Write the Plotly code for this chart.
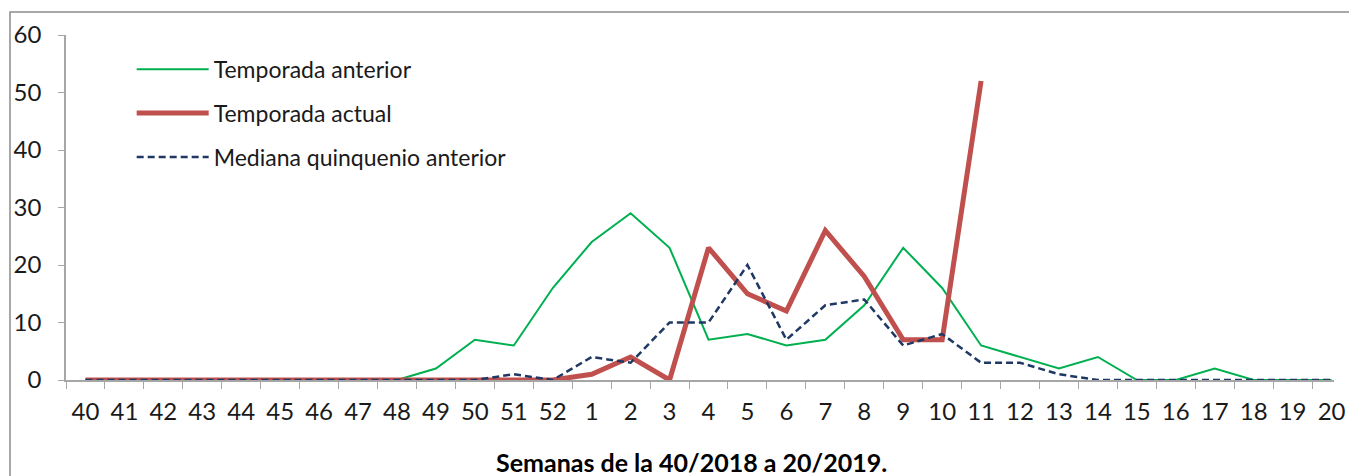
import plotly.graph_objects as go

weeks = [str(w) for w in list(range(40, 53)) + list(range(1, 21))]

temporada_anterior = [0, 0, 0, 0, 0, 0, 0, 0, 0, 2, 7, 6, 16, 24, 29, 23, 7, 8, 6, 7,
                      13, 23, 16, 6, 4, 2, 4, 0, 0, 2, 0, 0, 0]
temporada_actual = [0, 0, 0, 0, 0, 0, 0, 0, 0, 0, 0, 0, 0, 1, 4, 0, 23, 15, 12, 26,
                    18, 7, 7, 52] + [None] * 9
mediana = [0, 0, 0, 0, 0, 0, 0, 0, 0, 0, 0, 1, 0, 4, 3, 10, 10, 20, 7, 13,
           14, 6, 8, 3, 3, 1, 0, 0, 0, 0, 0, 0, 0]

FONT = "Lato"
W, H = 1349, 476
L, R, T, B = 66, 15, 35, 96
PW, PH = W - L - R, H - T - B
SPACING = 38.94
X_MAX = -0.5 + PW / SPACING

fig = go.Figure()
fig.add_trace(go.Scatter(x=weeks, y=temporada_anterior, mode="lines",
                         name="Temporada anterior", legendgroup="a",
                         line=dict(color="#00B050", width=2)))
fig.add_trace(go.Scatter(x=weeks, y=temporada_actual, mode="lines",
                         name="Temporada actual", legendgroup="b",
                         line=dict(color="#C0504D", width=5)))
fig.add_trace(go.Scatter(x=weeks, y=mediana, mode="lines",
                         name="Mediana quinquenio anterior", legendgroup="c",
                         line=dict(color="#1F3864", width=2.5, dash="7px,4px")))

fig.update_layout(
    width=W, height=H,
    margin=dict(l=L, r=R, t=T, b=B, autoexpand=False),
    paper_bgcolor="white", plot_bgcolor="white",
    font=dict(family=FONT, size=24, color="#1a1a1a"),
    showlegend=True,
    legend=dict(x=0.0518, y=0.963, xanchor="left", yanchor="top",
                bgcolor="rgba(0,0,0,0)", font=dict(size=23, family=FONT),
                tracegroupgap=11, itemwidth=72),
    xaxis=dict(
        type="category", range=[-0.5, X_MAX], automargin=False,
        showgrid=False, showline=True, linecolor="#A6A6A6", linewidth=1.5,
        ticks="outside", tickson="boundaries", ticklen=7, tickcolor="#A6A6A6",
        ticklabelstandoff=9,
        fixedrange=True,
    ),
    yaxis=dict(
        range=[0, 60], dtick=10, showgrid=False, zeroline=False, automargin=False,
        showline=True, linecolor="#A6A6A6", linewidth=1.5,
        ticks="outside", ticklen=6, tickcolor="#A6A6A6",
        ticklabelstandoff=12,
    ),
    annotations=[dict(text="<b>Semanas de la 40/2018 a 20/2019.</b>",
                      xref="paper", yref="paper", x=(691 - L) / PW, y=-82 / PH,
                      xanchor="center", yanchor="middle", showarrow=False,
                      font=dict(size=25, family=FONT, color="#000000"))],
    shapes=[dict(type="rect", xref="paper", yref="paper",
                 x0=-(L - 10) / PW, x1=1.2, y0=-0.5, y1=(PH + T - 12) / PH,
                 line=dict(color="#8C8C8C", width=1.5), fillcolor="rgba(0,0,0,0)",
                 layer="below")],
)

fig.write_html(
    "out.html",
    config={"displayModeBar": False},
    post_script="document.body.style.margin='0';document.body.style.overflow='hidden';",
)
